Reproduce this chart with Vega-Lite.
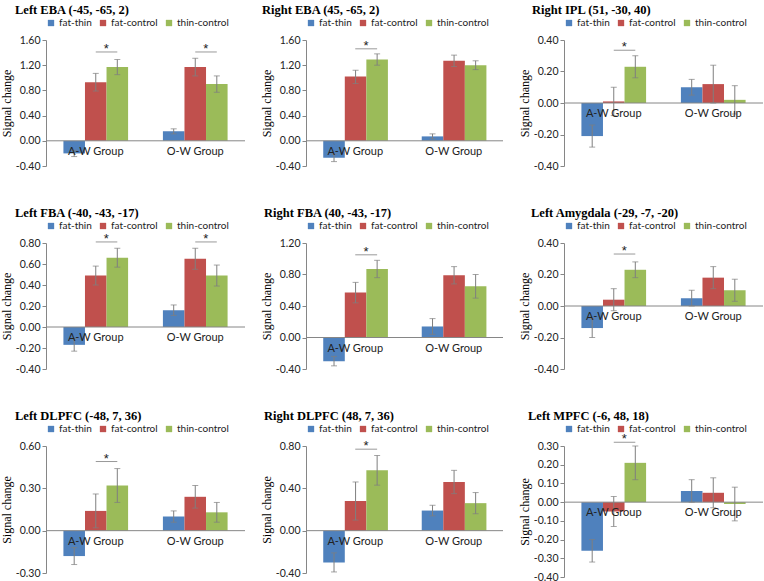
{
  "$schema": "https://vega.github.io/schema/vega-lite/v6.json",
  "padding": {"left": 0, "top": 3, "right": 0, "bottom": 0},
  "background": "white",
  "resolve": {"scale": {"color": "independent"}, "legend": {"color": "independent"}},
  "datasets": {
    "bars": [
      {"panel": "P1", "group": "A-W Group", "cond": "fat-thin", "value": -0.20, "lo": -0.25, "hi": -0.15},
      {"panel": "P1", "group": "A-W Group", "cond": "fat-control", "value": 0.93, "lo": 0.79, "hi": 1.07},
      {"panel": "P1", "group": "A-W Group", "cond": "thin-control", "value": 1.17, "lo": 1.05, "hi": 1.29},
      {"panel": "P1", "group": "O-W Group", "cond": "fat-thin", "value": 0.15, "lo": 0.11, "hi": 0.19},
      {"panel": "P1", "group": "O-W Group", "cond": "fat-control", "value": 1.17, "lo": 1.03, "hi": 1.31},
      {"panel": "P1", "group": "O-W Group", "cond": "thin-control", "value": 0.90, "lo": 0.77, "hi": 1.03},
      {"panel": "P2", "group": "A-W Group", "cond": "fat-thin", "value": -0.27, "lo": -0.33, "hi": -0.21},
      {"panel": "P2", "group": "A-W Group", "cond": "fat-control", "value": 1.02, "lo": 0.91, "hi": 1.12},
      {"panel": "P2", "group": "A-W Group", "cond": "thin-control", "value": 1.29, "lo": 1.20, "hi": 1.38},
      {"panel": "P2", "group": "O-W Group", "cond": "fat-thin", "value": 0.07, "lo": 0.03, "hi": 0.11},
      {"panel": "P2", "group": "O-W Group", "cond": "fat-control", "value": 1.27, "lo": 1.18, "hi": 1.36},
      {"panel": "P2", "group": "O-W Group", "cond": "thin-control", "value": 1.20, "lo": 1.13, "hi": 1.27},
      {"panel": "P3", "group": "A-W Group", "cond": "fat-thin", "value": -0.21, "lo": -0.28, "hi": -0.14},
      {"panel": "P3", "group": "A-W Group", "cond": "fat-control", "value": 0.01, "lo": -0.08, "hi": 0.10},
      {"panel": "P3", "group": "A-W Group", "cond": "thin-control", "value": 0.23, "lo": 0.16, "hi": 0.30},
      {"panel": "P3", "group": "O-W Group", "cond": "fat-thin", "value": 0.10, "lo": 0.05, "hi": 0.15},
      {"panel": "P3", "group": "O-W Group", "cond": "fat-control", "value": 0.12, "lo": 0.00, "hi": 0.24},
      {"panel": "P3", "group": "O-W Group", "cond": "thin-control", "value": 0.02, "lo": -0.07, "hi": 0.11},
      {"panel": "P4", "group": "A-W Group", "cond": "fat-thin", "value": -0.17, "lo": -0.23, "hi": -0.11},
      {"panel": "P4", "group": "A-W Group", "cond": "fat-control", "value": 0.49, "lo": 0.40, "hi": 0.58},
      {"panel": "P4", "group": "A-W Group", "cond": "thin-control", "value": 0.66, "lo": 0.57, "hi": 0.75},
      {"panel": "P4", "group": "O-W Group", "cond": "fat-thin", "value": 0.16, "lo": 0.11, "hi": 0.21},
      {"panel": "P4", "group": "O-W Group", "cond": "fat-control", "value": 0.65, "lo": 0.55, "hi": 0.75},
      {"panel": "P4", "group": "O-W Group", "cond": "thin-control", "value": 0.49, "lo": 0.39, "hi": 0.59},
      {"panel": "P5", "group": "A-W Group", "cond": "fat-thin", "value": -0.30, "lo": -0.36, "hi": -0.24},
      {"panel": "P5", "group": "A-W Group", "cond": "fat-control", "value": 0.57, "lo": 0.44, "hi": 0.70},
      {"panel": "P5", "group": "A-W Group", "cond": "thin-control", "value": 0.87, "lo": 0.76, "hi": 0.98},
      {"panel": "P5", "group": "O-W Group", "cond": "fat-thin", "value": 0.14, "lo": 0.04, "hi": 0.24},
      {"panel": "P5", "group": "O-W Group", "cond": "fat-control", "value": 0.79, "lo": 0.68, "hi": 0.90},
      {"panel": "P5", "group": "O-W Group", "cond": "thin-control", "value": 0.65, "lo": 0.50, "hi": 0.80},
      {"panel": "P6", "group": "A-W Group", "cond": "fat-thin", "value": -0.14, "lo": -0.20, "hi": -0.08},
      {"panel": "P6", "group": "A-W Group", "cond": "fat-control", "value": 0.04, "lo": -0.03, "hi": 0.11},
      {"panel": "P6", "group": "A-W Group", "cond": "thin-control", "value": 0.23, "lo": 0.18, "hi": 0.28},
      {"panel": "P6", "group": "O-W Group", "cond": "fat-thin", "value": 0.05, "lo": 0.00, "hi": 0.10},
      {"panel": "P6", "group": "O-W Group", "cond": "fat-control", "value": 0.18, "lo": 0.11, "hi": 0.25},
      {"panel": "P6", "group": "O-W Group", "cond": "thin-control", "value": 0.10, "lo": 0.03, "hi": 0.17},
      {"panel": "P7", "group": "A-W Group", "cond": "fat-thin", "value": -0.18, "lo": -0.24, "hi": -0.12},
      {"panel": "P7", "group": "A-W Group", "cond": "fat-control", "value": 0.14, "lo": 0.02, "hi": 0.26},
      {"panel": "P7", "group": "A-W Group", "cond": "thin-control", "value": 0.32, "lo": 0.20, "hi": 0.44},
      {"panel": "P7", "group": "O-W Group", "cond": "fat-thin", "value": 0.10, "lo": 0.06, "hi": 0.14},
      {"panel": "P7", "group": "O-W Group", "cond": "fat-control", "value": 0.24, "lo": 0.16, "hi": 0.32},
      {"panel": "P7", "group": "O-W Group", "cond": "thin-control", "value": 0.13, "lo": 0.06, "hi": 0.20},
      {"panel": "P8", "group": "A-W Group", "cond": "fat-thin", "value": -0.30, "lo": -0.39, "hi": -0.21},
      {"panel": "P8", "group": "A-W Group", "cond": "fat-control", "value": 0.28, "lo": 0.10, "hi": 0.46},
      {"panel": "P8", "group": "A-W Group", "cond": "thin-control", "value": 0.57, "lo": 0.43, "hi": 0.71},
      {"panel": "P8", "group": "O-W Group", "cond": "fat-thin", "value": 0.19, "lo": 0.14, "hi": 0.24},
      {"panel": "P8", "group": "O-W Group", "cond": "fat-control", "value": 0.46, "lo": 0.35, "hi": 0.57},
      {"panel": "P8", "group": "O-W Group", "cond": "thin-control", "value": 0.26, "lo": 0.16, "hi": 0.36},
      {"panel": "P9", "group": "A-W Group", "cond": "fat-thin", "value": -0.26, "lo": -0.32, "hi": -0.20},
      {"panel": "P9", "group": "A-W Group", "cond": "fat-control", "value": -0.05, "lo": -0.13, "hi": 0.03},
      {"panel": "P9", "group": "A-W Group", "cond": "thin-control", "value": 0.21, "lo": 0.12, "hi": 0.30},
      {"panel": "P9", "group": "O-W Group", "cond": "fat-thin", "value": 0.06, "lo": 0.00, "hi": 0.12},
      {"panel": "P9", "group": "O-W Group", "cond": "fat-control", "value": 0.05, "lo": -0.03, "hi": 0.13},
      {"panel": "P9", "group": "O-W Group", "cond": "thin-control", "value": -0.01, "lo": -0.10, "hi": 0.08}
    ],
    "sig": [
      {"panel": "P1", "group": "A-W Group", "cond": "thin-control", "line": 1.41},
      {"panel": "P1", "group": "O-W Group", "cond": "thin-control", "line": 1.41},
      {"panel": "P2", "group": "A-W Group", "cond": "thin-control", "line": 1.46},
      {"panel": "P3", "group": "A-W Group", "cond": "thin-control", "line": 0.335},
      {"panel": "P4", "group": "A-W Group", "cond": "thin-control", "line": 0.81},
      {"panel": "P4", "group": "O-W Group", "cond": "thin-control", "line": 0.81},
      {"panel": "P5", "group": "A-W Group", "cond": "thin-control", "line": 1.05},
      {"panel": "P6", "group": "A-W Group", "cond": "thin-control", "line": 0.33},
      {"panel": "P7", "group": "A-W Group", "cond": "thin-control", "line": 0.49},
      {"panel": "P8", "group": "A-W Group", "cond": "thin-control", "line": 0.77},
      {"panel": "P9", "group": "A-W Group", "cond": "thin-control", "line": 0.32}
    ]
  },
  "columns": 3,
  "bounds": "flush",
  "spacing": {"row": 77, "column": 61},
  "concat": [
    {
      "width": 199, "height": 126,
      "title": {"text": "Left EBA (-45, -65, 2)", "dx": -31},
      "layer": [
        {"data": {"name": "bars"}, "transform": [{"filter": "datum.panel === 'P1'"}], "mark": {"type": "bar"},
         "encoding": {
           "x": {"field": "group", "type": "nominal", "scale": {"domain": ["A-W Group", "O-W Group"], "paddingInner": 0.35, "paddingOuter": 0.175}, "axis": {"offset": -25.2}},
           "xOffset": {"field": "cond", "type": "nominal", "scale": {"domain": ["fat-thin", "fat-control", "thin-control"]}},
           "y": {"field": "value", "type": "quantitative", "scale": {"domain": [-0.4, 1.6], "nice": false, "zero": false}, "axis": {"values": [-0.4, 0, 0.4, 0.8, 1.2, 1.6], "tickCount": 20, "format": ".2f", "title": "Signal change", "labelOverlap": false}},
           "color": {"field": "cond", "type": "nominal", "scale": {"domain": ["fat-thin", "fat-control", "thin-control"], "range": ["#4F81BD", "#C0504D", "#9BBB59"]}, "legend": {"title": null}}
         }},
        {"data": {"values": [{}]}, "mark": {"type": "rule", "color": "#868686"}, "encoding": {"y": {"datum": 0}}},
        {"data": {"name": "bars"}, "transform": [{"filter": "datum.panel === 'P1'"}], "mark": {"type": "rule", "color": "#7f7f7f"},
         "encoding": {"x": {"field": "group", "type": "nominal", "axis": null}, "xOffset": {"field": "cond", "type": "nominal"}, "y": {"field": "lo", "type": "quantitative"}, "y2": {"field": "hi"}}},
        {"data": {"name": "bars"}, "transform": [{"filter": "datum.panel === 'P1'"}], "mark": {"type": "tick", "color": "#7f7f7f", "size": 6, "thickness": 1, "orient": "horizontal"},
         "encoding": {"x": {"field": "group", "type": "nominal", "axis": null}, "xOffset": {"field": "cond", "type": "nominal"}, "y": {"field": "lo", "type": "quantitative"}}},
        {"data": {"name": "bars"}, "transform": [{"filter": "datum.panel === 'P1'"}], "mark": {"type": "tick", "color": "#7f7f7f", "size": 6, "thickness": 1, "orient": "horizontal"},
         "encoding": {"x": {"field": "group", "type": "nominal", "axis": null}, "xOffset": {"field": "cond", "type": "nominal"}, "y": {"field": "hi", "type": "quantitative"}}},
        {"data": {"name": "bars"}, "transform": [{"filter": "datum.panel === 'P1' && datum.cond === 'fat-control'"}], "mark": {"type": "text", "baseline": "top", "dy": 5, "font": "Lato", "fontSize": 11, "color": "#222"},
         "encoding": {"x": {"field": "group", "type": "nominal", "axis": null}, "y": {"datum": 0}, "text": {"field": "group"}}},
        {"data": {"name": "sig"}, "transform": [{"filter": "datum.panel === 'P1'"}], "mark": {"type": "rule", "color": "#999999"},
         "encoding": {"x": {"field": "group", "type": "nominal", "axis": null}, "xOffset": {"field": "cond", "type": "nominal"}, "x2": {"field": "group"}, "y": {"field": "line", "type": "quantitative"}}},
        {"data": {"name": "sig"}, "transform": [{"filter": "datum.panel === 'P1'"}], "mark": {"type": "text", "text": "*", "dx": -11, "dy": 1, "baseline": "alphabetic", "font": "Liberation Sans", "fontSize": 13, "color": "#222"},
         "encoding": {"x": {"field": "group", "type": "nominal", "axis": null}, "xOffset": {"field": "cond", "type": "nominal"}, "y": {"field": "line", "type": "quantitative"}}}
      ]
    },
    {
      "width": 197, "height": 126,
      "title": {"text": "Right EBA (45, -65, 2)", "dx": -44},
      "layer": [
        {"data": {"name": "bars"}, "transform": [{"filter": "datum.panel === 'P2'"}], "mark": {"type": "bar"},
         "encoding": {
           "x": {"field": "group", "type": "nominal", "scale": {"domain": ["A-W Group", "O-W Group"], "paddingInner": 0.35, "paddingOuter": 0.175}, "axis": {"offset": -25.2}},
           "xOffset": {"field": "cond", "type": "nominal", "scale": {"domain": ["fat-thin", "fat-control", "thin-control"]}},
           "y": {"field": "value", "type": "quantitative", "scale": {"domain": [-0.4, 1.6], "nice": false, "zero": false}, "axis": {"values": [-0.4, 0, 0.4, 0.8, 1.2, 1.6], "tickCount": 20, "format": ".2f", "title": "Signal change", "labelOverlap": false}},
           "color": {"field": "cond", "type": "nominal", "scale": {"domain": ["fat-thin", "fat-control", "thin-control"], "range": ["#4F81BD", "#C0504D", "#9BBB59"]}, "legend": {"title": null}}
         }},
        {"data": {"values": [{}]}, "mark": {"type": "rule", "color": "#868686"}, "encoding": {"y": {"datum": 0}}},
        {"data": {"name": "bars"}, "transform": [{"filter": "datum.panel === 'P2'"}], "mark": {"type": "rule", "color": "#7f7f7f"},
         "encoding": {"x": {"field": "group", "type": "nominal", "axis": null}, "xOffset": {"field": "cond", "type": "nominal"}, "y": {"field": "lo", "type": "quantitative"}, "y2": {"field": "hi"}}},
        {"data": {"name": "bars"}, "transform": [{"filter": "datum.panel === 'P2'"}], "mark": {"type": "tick", "color": "#7f7f7f", "size": 6, "thickness": 1, "orient": "horizontal"},
         "encoding": {"x": {"field": "group", "type": "nominal", "axis": null}, "xOffset": {"field": "cond", "type": "nominal"}, "y": {"field": "lo", "type": "quantitative"}}},
        {"data": {"name": "bars"}, "transform": [{"filter": "datum.panel === 'P2'"}], "mark": {"type": "tick", "color": "#7f7f7f", "size": 6, "thickness": 1, "orient": "horizontal"},
         "encoding": {"x": {"field": "group", "type": "nominal", "axis": null}, "xOffset": {"field": "cond", "type": "nominal"}, "y": {"field": "hi", "type": "quantitative"}}},
        {"data": {"name": "bars"}, "transform": [{"filter": "datum.panel === 'P2' && datum.cond === 'fat-control'"}], "mark": {"type": "text", "baseline": "top", "dy": 5, "font": "Lato", "fontSize": 11, "color": "#222"},
         "encoding": {"x": {"field": "group", "type": "nominal", "axis": null}, "y": {"datum": 0}, "text": {"field": "group"}}},
        {"data": {"name": "sig"}, "transform": [{"filter": "datum.panel === 'P2'"}], "mark": {"type": "rule", "color": "#999999"},
         "encoding": {"x": {"field": "group", "type": "nominal", "axis": null}, "xOffset": {"field": "cond", "type": "nominal"}, "x2": {"field": "group"}, "y": {"field": "line", "type": "quantitative"}}},
        {"data": {"name": "sig"}, "transform": [{"filter": "datum.panel === 'P2'"}], "mark": {"type": "text", "text": "*", "dx": -11, "dy": 1, "baseline": "alphabetic", "font": "Liberation Sans", "fontSize": 13, "color": "#222"},
         "encoding": {"x": {"field": "group", "type": "nominal", "axis": null}, "xOffset": {"field": "cond", "type": "nominal"}, "y": {"field": "line", "type": "quantitative"}}}
      ]
    },
    {
      "width": 199, "height": 126,
      "title": {"text": "Right IPL (51, -30, 40)", "dx": -32},
      "layer": [
        {"data": {"name": "bars"}, "transform": [{"filter": "datum.panel === 'P3'"}], "mark": {"type": "bar"},
         "encoding": {
           "x": {"field": "group", "type": "nominal", "scale": {"domain": ["A-W Group", "O-W Group"], "paddingInner": 0.35, "paddingOuter": 0.175}, "axis": {"offset": -63}},
           "xOffset": {"field": "cond", "type": "nominal", "scale": {"domain": ["fat-thin", "fat-control", "thin-control"]}},
           "y": {"field": "value", "type": "quantitative", "scale": {"domain": [-0.4, 0.4], "nice": false, "zero": false}, "axis": {"values": [-0.4, -0.2, 0, 0.2, 0.4], "tickCount": 20, "format": ".2f", "title": "Signal change", "labelOverlap": false}},
           "color": {"field": "cond", "type": "nominal", "scale": {"domain": ["fat-thin", "fat-control", "thin-control"], "range": ["#4F81BD", "#C0504D", "#9BBB59"]}, "legend": {"title": null}}
         }},
        {"data": {"values": [{}]}, "mark": {"type": "rule", "color": "#868686"}, "encoding": {"y": {"datum": 0}}},
        {"data": {"name": "bars"}, "transform": [{"filter": "datum.panel === 'P3'"}], "mark": {"type": "rule", "color": "#7f7f7f"},
         "encoding": {"x": {"field": "group", "type": "nominal", "axis": null}, "xOffset": {"field": "cond", "type": "nominal"}, "y": {"field": "lo", "type": "quantitative"}, "y2": {"field": "hi"}}},
        {"data": {"name": "bars"}, "transform": [{"filter": "datum.panel === 'P3'"}], "mark": {"type": "tick", "color": "#7f7f7f", "size": 6, "thickness": 1, "orient": "horizontal"},
         "encoding": {"x": {"field": "group", "type": "nominal", "axis": null}, "xOffset": {"field": "cond", "type": "nominal"}, "y": {"field": "lo", "type": "quantitative"}}},
        {"data": {"name": "bars"}, "transform": [{"filter": "datum.panel === 'P3'"}], "mark": {"type": "tick", "color": "#7f7f7f", "size": 6, "thickness": 1, "orient": "horizontal"},
         "encoding": {"x": {"field": "group", "type": "nominal", "axis": null}, "xOffset": {"field": "cond", "type": "nominal"}, "y": {"field": "hi", "type": "quantitative"}}},
        {"data": {"name": "bars"}, "transform": [{"filter": "datum.panel === 'P3' && datum.cond === 'fat-control'"}], "mark": {"type": "text", "baseline": "top", "dy": 5, "font": "Lato", "fontSize": 11, "color": "#222"},
         "encoding": {"x": {"field": "group", "type": "nominal", "axis": null}, "y": {"datum": 0}, "text": {"field": "group"}}},
        {"data": {"name": "sig"}, "transform": [{"filter": "datum.panel === 'P3'"}], "mark": {"type": "rule", "color": "#999999"},
         "encoding": {"x": {"field": "group", "type": "nominal", "axis": null}, "xOffset": {"field": "cond", "type": "nominal"}, "x2": {"field": "group"}, "y": {"field": "line", "type": "quantitative"}}},
        {"data": {"name": "sig"}, "transform": [{"filter": "datum.panel === 'P3'"}], "mark": {"type": "text", "text": "*", "dx": -11, "dy": 1, "baseline": "alphabetic", "font": "Liberation Sans", "fontSize": 13, "color": "#222"},
         "encoding": {"x": {"field": "group", "type": "nominal", "axis": null}, "xOffset": {"field": "cond", "type": "nominal"}, "y": {"field": "line", "type": "quantitative"}}}
      ]
    },
    {
      "width": 199, "height": 126,
      "title": {"text": "Left FBA (-40, -43, -17)", "dx": -31},
      "layer": [
        {"data": {"name": "bars"}, "transform": [{"filter": "datum.panel === 'P4'"}], "mark": {"type": "bar"},
         "encoding": {
           "x": {"field": "group", "type": "nominal", "scale": {"domain": ["A-W Group", "O-W Group"], "paddingInner": 0.35, "paddingOuter": 0.175}, "axis": {"offset": -42}},
           "xOffset": {"field": "cond", "type": "nominal", "scale": {"domain": ["fat-thin", "fat-control", "thin-control"]}},
           "y": {"field": "value", "type": "quantitative", "scale": {"domain": [-0.4, 0.8], "nice": false, "zero": false}, "axis": {"values": [-0.4, -0.2, 0, 0.2, 0.4, 0.6, 0.8], "tickCount": 20, "format": ".2f", "title": "Signal change", "labelOverlap": false}},
           "color": {"field": "cond", "type": "nominal", "scale": {"domain": ["fat-thin", "fat-control", "thin-control"], "range": ["#4F81BD", "#C0504D", "#9BBB59"]}, "legend": {"title": null}}
         }},
        {"data": {"values": [{}]}, "mark": {"type": "rule", "color": "#868686"}, "encoding": {"y": {"datum": 0}}},
        {"data": {"name": "bars"}, "transform": [{"filter": "datum.panel === 'P4'"}], "mark": {"type": "rule", "color": "#7f7f7f"},
         "encoding": {"x": {"field": "group", "type": "nominal", "axis": null}, "xOffset": {"field": "cond", "type": "nominal"}, "y": {"field": "lo", "type": "quantitative"}, "y2": {"field": "hi"}}},
        {"data": {"name": "bars"}, "transform": [{"filter": "datum.panel === 'P4'"}], "mark": {"type": "tick", "color": "#7f7f7f", "size": 6, "thickness": 1, "orient": "horizontal"},
         "encoding": {"x": {"field": "group", "type": "nominal", "axis": null}, "xOffset": {"field": "cond", "type": "nominal"}, "y": {"field": "lo", "type": "quantitative"}}},
        {"data": {"name": "bars"}, "transform": [{"filter": "datum.panel === 'P4'"}], "mark": {"type": "tick", "color": "#7f7f7f", "size": 6, "thickness": 1, "orient": "horizontal"},
         "encoding": {"x": {"field": "group", "type": "nominal", "axis": null}, "xOffset": {"field": "cond", "type": "nominal"}, "y": {"field": "hi", "type": "quantitative"}}},
        {"data": {"name": "bars"}, "transform": [{"filter": "datum.panel === 'P4' && datum.cond === 'fat-control'"}], "mark": {"type": "text", "baseline": "top", "dy": 5, "font": "Lato", "fontSize": 11, "color": "#222"},
         "encoding": {"x": {"field": "group", "type": "nominal", "axis": null}, "y": {"datum": 0}, "text": {"field": "group"}}},
        {"data": {"name": "sig"}, "transform": [{"filter": "datum.panel === 'P4'"}], "mark": {"type": "rule", "color": "#999999"},
         "encoding": {"x": {"field": "group", "type": "nominal", "axis": null}, "xOffset": {"field": "cond", "type": "nominal"}, "x2": {"field": "group"}, "y": {"field": "line", "type": "quantitative"}}},
        {"data": {"name": "sig"}, "transform": [{"filter": "datum.panel === 'P4'"}], "mark": {"type": "text", "text": "*", "dx": -11, "dy": 1, "baseline": "alphabetic", "font": "Liberation Sans", "fontSize": 13, "color": "#222"},
         "encoding": {"x": {"field": "group", "type": "nominal", "axis": null}, "xOffset": {"field": "cond", "type": "nominal"}, "y": {"field": "line", "type": "quantitative"}}}
      ]
    },
    {
      "width": 197, "height": 126,
      "title": {"text": "Right FBA (40, -43, -17)", "dx": -42},
      "layer": [
        {"data": {"name": "bars"}, "transform": [{"filter": "datum.panel === 'P5'"}], "mark": {"type": "bar"},
         "encoding": {
           "x": {"field": "group", "type": "nominal", "scale": {"domain": ["A-W Group", "O-W Group"], "paddingInner": 0.35, "paddingOuter": 0.175}, "axis": {"offset": -31.5}},
           "xOffset": {"field": "cond", "type": "nominal", "scale": {"domain": ["fat-thin", "fat-control", "thin-control"]}},
           "y": {"field": "value", "type": "quantitative", "scale": {"domain": [-0.4, 1.2], "nice": false, "zero": false}, "axis": {"values": [-0.4, 0, 0.4, 0.8, 1.2], "tickCount": 20, "format": ".2f", "title": "Signal change", "labelOverlap": false}},
           "color": {"field": "cond", "type": "nominal", "scale": {"domain": ["fat-thin", "fat-control", "thin-control"], "range": ["#4F81BD", "#C0504D", "#9BBB59"]}, "legend": {"title": null}}
         }},
        {"data": {"values": [{}]}, "mark": {"type": "rule", "color": "#868686"}, "encoding": {"y": {"datum": 0}}},
        {"data": {"name": "bars"}, "transform": [{"filter": "datum.panel === 'P5'"}], "mark": {"type": "rule", "color": "#7f7f7f"},
         "encoding": {"x": {"field": "group", "type": "nominal", "axis": null}, "xOffset": {"field": "cond", "type": "nominal"}, "y": {"field": "lo", "type": "quantitative"}, "y2": {"field": "hi"}}},
        {"data": {"name": "bars"}, "transform": [{"filter": "datum.panel === 'P5'"}], "mark": {"type": "tick", "color": "#7f7f7f", "size": 6, "thickness": 1, "orient": "horizontal"},
         "encoding": {"x": {"field": "group", "type": "nominal", "axis": null}, "xOffset": {"field": "cond", "type": "nominal"}, "y": {"field": "lo", "type": "quantitative"}}},
        {"data": {"name": "bars"}, "transform": [{"filter": "datum.panel === 'P5'"}], "mark": {"type": "tick", "color": "#7f7f7f", "size": 6, "thickness": 1, "orient": "horizontal"},
         "encoding": {"x": {"field": "group", "type": "nominal", "axis": null}, "xOffset": {"field": "cond", "type": "nominal"}, "y": {"field": "hi", "type": "quantitative"}}},
        {"data": {"name": "bars"}, "transform": [{"filter": "datum.panel === 'P5' && datum.cond === 'fat-control'"}], "mark": {"type": "text", "baseline": "top", "dy": 5, "font": "Lato", "fontSize": 11, "color": "#222"},
         "encoding": {"x": {"field": "group", "type": "nominal", "axis": null}, "y": {"datum": 0}, "text": {"field": "group"}}},
        {"data": {"name": "sig"}, "transform": [{"filter": "datum.panel === 'P5'"}], "mark": {"type": "rule", "color": "#999999"},
         "encoding": {"x": {"field": "group", "type": "nominal", "axis": null}, "xOffset": {"field": "cond", "type": "nominal"}, "x2": {"field": "group"}, "y": {"field": "line", "type": "quantitative"}}},
        {"data": {"name": "sig"}, "transform": [{"filter": "datum.panel === 'P5'"}], "mark": {"type": "text", "text": "*", "dx": -11, "dy": 1, "baseline": "alphabetic", "font": "Liberation Sans", "fontSize": 13, "color": "#222"},
         "encoding": {"x": {"field": "group", "type": "nominal", "axis": null}, "xOffset": {"field": "cond", "type": "nominal"}, "y": {"field": "line", "type": "quantitative"}}}
      ]
    },
    {
      "width": 199, "height": 126,
      "title": {"text": "Left Amygdala (-29, -7, -20)", "dx": -33},
      "layer": [
        {"data": {"name": "bars"}, "transform": [{"filter": "datum.panel === 'P6'"}], "mark": {"type": "bar"},
         "encoding": {
           "x": {"field": "group", "type": "nominal", "scale": {"domain": ["A-W Group", "O-W Group"], "paddingInner": 0.35, "paddingOuter": 0.175}, "axis": {"offset": -63}},
           "xOffset": {"field": "cond", "type": "nominal", "scale": {"domain": ["fat-thin", "fat-control", "thin-control"]}},
           "y": {"field": "value", "type": "quantitative", "scale": {"domain": [-0.4, 0.4], "nice": false, "zero": false}, "axis": {"values": [-0.4, -0.2, 0, 0.2, 0.4], "tickCount": 20, "format": ".2f", "title": "Signal change", "labelOverlap": false}},
           "color": {"field": "cond", "type": "nominal", "scale": {"domain": ["fat-thin", "fat-control", "thin-control"], "range": ["#4F81BD", "#C0504D", "#9BBB59"]}, "legend": {"title": null}}
         }},
        {"data": {"values": [{}]}, "mark": {"type": "rule", "color": "#868686"}, "encoding": {"y": {"datum": 0}}},
        {"data": {"name": "bars"}, "transform": [{"filter": "datum.panel === 'P6'"}], "mark": {"type": "rule", "color": "#7f7f7f"},
         "encoding": {"x": {"field": "group", "type": "nominal", "axis": null}, "xOffset": {"field": "cond", "type": "nominal"}, "y": {"field": "lo", "type": "quantitative"}, "y2": {"field": "hi"}}},
        {"data": {"name": "bars"}, "transform": [{"filter": "datum.panel === 'P6'"}], "mark": {"type": "tick", "color": "#7f7f7f", "size": 6, "thickness": 1, "orient": "horizontal"},
         "encoding": {"x": {"field": "group", "type": "nominal", "axis": null}, "xOffset": {"field": "cond", "type": "nominal"}, "y": {"field": "lo", "type": "quantitative"}}},
        {"data": {"name": "bars"}, "transform": [{"filter": "datum.panel === 'P6'"}], "mark": {"type": "tick", "color": "#7f7f7f", "size": 6, "thickness": 1, "orient": "horizontal"},
         "encoding": {"x": {"field": "group", "type": "nominal", "axis": null}, "xOffset": {"field": "cond", "type": "nominal"}, "y": {"field": "hi", "type": "quantitative"}}},
        {"data": {"name": "bars"}, "transform": [{"filter": "datum.panel === 'P6' && datum.cond === 'fat-control'"}], "mark": {"type": "text", "baseline": "top", "dy": 5, "font": "Lato", "fontSize": 11, "color": "#222"},
         "encoding": {"x": {"field": "group", "type": "nominal", "axis": null}, "y": {"datum": 0}, "text": {"field": "group"}}},
        {"data": {"name": "sig"}, "transform": [{"filter": "datum.panel === 'P6'"}], "mark": {"type": "rule", "color": "#999999"},
         "encoding": {"x": {"field": "group", "type": "nominal", "axis": null}, "xOffset": {"field": "cond", "type": "nominal"}, "x2": {"field": "group"}, "y": {"field": "line", "type": "quantitative"}}},
        {"data": {"name": "sig"}, "transform": [{"filter": "datum.panel === 'P6'"}], "mark": {"type": "text", "text": "*", "dx": -11, "dy": 1, "baseline": "alphabetic", "font": "Liberation Sans", "fontSize": 13, "color": "#222"},
         "encoding": {"x": {"field": "group", "type": "nominal", "axis": null}, "xOffset": {"field": "cond", "type": "nominal"}, "y": {"field": "line", "type": "quantitative"}}}
      ]
    },
    {
      "width": 199, "height": 127,
      "title": {"text": "Left DLPFC (-48, 7, 36)", "dx": -31},
      "layer": [
        {"data": {"name": "bars"}, "transform": [{"filter": "datum.panel === 'P7'"}], "mark": {"type": "bar"},
         "encoding": {
           "x": {"field": "group", "type": "nominal", "scale": {"domain": ["A-W Group", "O-W Group"], "paddingInner": 0.35, "paddingOuter": 0.175}, "axis": {"offset": -42.33}},
           "xOffset": {"field": "cond", "type": "nominal", "scale": {"domain": ["fat-thin", "fat-control", "thin-control"]}},
           "y": {"field": "value", "type": "quantitative", "scale": {"domain": [-0.3, 0.6], "nice": false, "zero": false}, "axis": {"values": [-0.3, 0, 0.3, 0.6], "tickCount": 20, "format": ".2f", "title": "Signal change", "labelOverlap": false}},
           "color": {"field": "cond", "type": "nominal", "scale": {"domain": ["fat-thin", "fat-control", "thin-control"], "range": ["#4F81BD", "#C0504D", "#9BBB59"]}, "legend": {"title": null}}
         }},
        {"data": {"values": [{}]}, "mark": {"type": "rule", "color": "#868686"}, "encoding": {"y": {"datum": 0}}},
        {"data": {"name": "bars"}, "transform": [{"filter": "datum.panel === 'P7'"}], "mark": {"type": "rule", "color": "#7f7f7f"},
         "encoding": {"x": {"field": "group", "type": "nominal", "axis": null}, "xOffset": {"field": "cond", "type": "nominal"}, "y": {"field": "lo", "type": "quantitative"}, "y2": {"field": "hi"}}},
        {"data": {"name": "bars"}, "transform": [{"filter": "datum.panel === 'P7'"}], "mark": {"type": "tick", "color": "#7f7f7f", "size": 6, "thickness": 1, "orient": "horizontal"},
         "encoding": {"x": {"field": "group", "type": "nominal", "axis": null}, "xOffset": {"field": "cond", "type": "nominal"}, "y": {"field": "lo", "type": "quantitative"}}},
        {"data": {"name": "bars"}, "transform": [{"filter": "datum.panel === 'P7'"}], "mark": {"type": "tick", "color": "#7f7f7f", "size": 6, "thickness": 1, "orient": "horizontal"},
         "encoding": {"x": {"field": "group", "type": "nominal", "axis": null}, "xOffset": {"field": "cond", "type": "nominal"}, "y": {"field": "hi", "type": "quantitative"}}},
        {"data": {"name": "bars"}, "transform": [{"filter": "datum.panel === 'P7' && datum.cond === 'fat-control'"}], "mark": {"type": "text", "baseline": "top", "dy": 5, "font": "Lato", "fontSize": 11, "color": "#222"},
         "encoding": {"x": {"field": "group", "type": "nominal", "axis": null}, "y": {"datum": 0}, "text": {"field": "group"}}},
        {"data": {"name": "sig"}, "transform": [{"filter": "datum.panel === 'P7'"}], "mark": {"type": "rule", "color": "#999999"},
         "encoding": {"x": {"field": "group", "type": "nominal", "axis": null}, "xOffset": {"field": "cond", "type": "nominal"}, "x2": {"field": "group"}, "y": {"field": "line", "type": "quantitative"}}},
        {"data": {"name": "sig"}, "transform": [{"filter": "datum.panel === 'P7'"}], "mark": {"type": "text", "text": "*", "dx": -11, "dy": 1, "baseline": "alphabetic", "font": "Liberation Sans", "fontSize": 13, "color": "#222"},
         "encoding": {"x": {"field": "group", "type": "nominal", "axis": null}, "xOffset": {"field": "cond", "type": "nominal"}, "y": {"field": "line", "type": "quantitative"}}}
      ]
    },
    {
      "width": 197, "height": 127,
      "title": {"text": "Right DLPFC (48, 7, 36)", "dx": -42},
      "layer": [
        {"data": {"name": "bars"}, "transform": [{"filter": "datum.panel === 'P8'"}], "mark": {"type": "bar"},
         "encoding": {
           "x": {"field": "group", "type": "nominal", "scale": {"domain": ["A-W Group", "O-W Group"], "paddingInner": 0.35, "paddingOuter": 0.175}, "axis": {"offset": -42.33}},
           "xOffset": {"field": "cond", "type": "nominal", "scale": {"domain": ["fat-thin", "fat-control", "thin-control"]}},
           "y": {"field": "value", "type": "quantitative", "scale": {"domain": [-0.4, 0.8], "nice": false, "zero": false}, "axis": {"values": [-0.4, 0, 0.4, 0.8], "tickCount": 20, "format": ".2f", "title": "Signal change", "labelOverlap": false}},
           "color": {"field": "cond", "type": "nominal", "scale": {"domain": ["fat-thin", "fat-control", "thin-control"], "range": ["#4F81BD", "#C0504D", "#9BBB59"]}, "legend": {"title": null}}
         }},
        {"data": {"values": [{}]}, "mark": {"type": "rule", "color": "#868686"}, "encoding": {"y": {"datum": 0}}},
        {"data": {"name": "bars"}, "transform": [{"filter": "datum.panel === 'P8'"}], "mark": {"type": "rule", "color": "#7f7f7f"},
         "encoding": {"x": {"field": "group", "type": "nominal", "axis": null}, "xOffset": {"field": "cond", "type": "nominal"}, "y": {"field": "lo", "type": "quantitative"}, "y2": {"field": "hi"}}},
        {"data": {"name": "bars"}, "transform": [{"filter": "datum.panel === 'P8'"}], "mark": {"type": "tick", "color": "#7f7f7f", "size": 6, "thickness": 1, "orient": "horizontal"},
         "encoding": {"x": {"field": "group", "type": "nominal", "axis": null}, "xOffset": {"field": "cond", "type": "nominal"}, "y": {"field": "lo", "type": "quantitative"}}},
        {"data": {"name": "bars"}, "transform": [{"filter": "datum.panel === 'P8'"}], "mark": {"type": "tick", "color": "#7f7f7f", "size": 6, "thickness": 1, "orient": "horizontal"},
         "encoding": {"x": {"field": "group", "type": "nominal", "axis": null}, "xOffset": {"field": "cond", "type": "nominal"}, "y": {"field": "hi", "type": "quantitative"}}},
        {"data": {"name": "bars"}, "transform": [{"filter": "datum.panel === 'P8' && datum.cond === 'fat-control'"}], "mark": {"type": "text", "baseline": "top", "dy": 5, "font": "Lato", "fontSize": 11, "color": "#222"},
         "encoding": {"x": {"field": "group", "type": "nominal", "axis": null}, "y": {"datum": 0}, "text": {"field": "group"}}},
        {"data": {"name": "sig"}, "transform": [{"filter": "datum.panel === 'P8'"}], "mark": {"type": "rule", "color": "#999999"},
         "encoding": {"x": {"field": "group", "type": "nominal", "axis": null}, "xOffset": {"field": "cond", "type": "nominal"}, "x2": {"field": "group"}, "y": {"field": "line", "type": "quantitative"}}},
        {"data": {"name": "sig"}, "transform": [{"filter": "datum.panel === 'P8'"}], "mark": {"type": "text", "text": "*", "dx": -11, "dy": 1, "baseline": "alphabetic", "font": "Liberation Sans", "fontSize": 13, "color": "#222"},
         "encoding": {"x": {"field": "group", "type": "nominal", "axis": null}, "xOffset": {"field": "cond", "type": "nominal"}, "y": {"field": "line", "type": "quantitative"}}}
      ]
    },
    {
      "width": 199, "height": 131,
      "title": {"text": "Left MPFC (-6, 48, 18)", "dx": -36},
      "layer": [
        {"data": {"name": "bars"}, "transform": [{"filter": "datum.panel === 'P9'"}], "mark": {"type": "bar"},
         "encoding": {
           "x": {"field": "group", "type": "nominal", "scale": {"domain": ["A-W Group", "O-W Group"], "paddingInner": 0.35, "paddingOuter": 0.175}, "axis": {"offset": -74.86}},
           "xOffset": {"field": "cond", "type": "nominal", "scale": {"domain": ["fat-thin", "fat-control", "thin-control"]}},
           "y": {"field": "value", "type": "quantitative", "scale": {"domain": [-0.4, 0.3], "nice": false, "zero": false}, "axis": {"values": [-0.4, -0.3, -0.2, -0.1, 0, 0.1, 0.2, 0.3], "tickCount": 20, "format": ".2f", "title": "Signal change", "labelOverlap": false}},
           "color": {"field": "cond", "type": "nominal", "scale": {"domain": ["fat-thin", "fat-control", "thin-control"], "range": ["#4F81BD", "#C0504D", "#9BBB59"]}, "legend": {"title": null}}
         }},
        {"data": {"values": [{}]}, "mark": {"type": "rule", "color": "#868686"}, "encoding": {"y": {"datum": 0}}},
        {"data": {"name": "bars"}, "transform": [{"filter": "datum.panel === 'P9'"}], "mark": {"type": "rule", "color": "#7f7f7f"},
         "encoding": {"x": {"field": "group", "type": "nominal", "axis": null}, "xOffset": {"field": "cond", "type": "nominal"}, "y": {"field": "lo", "type": "quantitative"}, "y2": {"field": "hi"}}},
        {"data": {"name": "bars"}, "transform": [{"filter": "datum.panel === 'P9'"}], "mark": {"type": "tick", "color": "#7f7f7f", "size": 6, "thickness": 1, "orient": "horizontal"},
         "encoding": {"x": {"field": "group", "type": "nominal", "axis": null}, "xOffset": {"field": "cond", "type": "nominal"}, "y": {"field": "lo", "type": "quantitative"}}},
        {"data": {"name": "bars"}, "transform": [{"filter": "datum.panel === 'P9'"}], "mark": {"type": "tick", "color": "#7f7f7f", "size": 6, "thickness": 1, "orient": "horizontal"},
         "encoding": {"x": {"field": "group", "type": "nominal", "axis": null}, "xOffset": {"field": "cond", "type": "nominal"}, "y": {"field": "hi", "type": "quantitative"}}},
        {"data": {"name": "bars"}, "transform": [{"filter": "datum.panel === 'P9' && datum.cond === 'fat-control'"}], "mark": {"type": "text", "baseline": "top", "dy": 5, "font": "Lato", "fontSize": 11, "color": "#222"},
         "encoding": {"x": {"field": "group", "type": "nominal", "axis": null}, "y": {"datum": 0}, "text": {"field": "group"}}},
        {"data": {"name": "sig"}, "transform": [{"filter": "datum.panel === 'P9'"}], "mark": {"type": "rule", "color": "#999999"},
         "encoding": {"x": {"field": "group", "type": "nominal", "axis": null}, "xOffset": {"field": "cond", "type": "nominal"}, "x2": {"field": "group"}, "y": {"field": "line", "type": "quantitative"}}},
        {"data": {"name": "sig"}, "transform": [{"filter": "datum.panel === 'P9'"}], "mark": {"type": "text", "text": "*", "dx": -11, "dy": 1, "baseline": "alphabetic", "font": "Liberation Sans", "fontSize": 13, "color": "#222"},
         "encoding": {"x": {"field": "group", "type": "nominal", "axis": null}, "xOffset": {"field": "cond", "type": "nominal"}, "y": {"field": "line", "type": "quantitative"}}}
      ]
    }
  ],
  "config": {
    "view": {"stroke": null},
    "locale": {"number": {"decimal": ".", "thousands": ",", "grouping": [3], "currency": ["$", ""], "minus": "-"}},
    "axis": {"labelFont": "Lato", "labelFontSize": 10.5, "labelColor": "#222", "labelOverlap": false, "domainColor": "#868686", "tickColor": "#868686", "tickSize": 4, "labelPadding": 2, "titleFont": "Liberation Serif", "titleFontSize": 12, "titleFontWeight": "normal", "titleColor": "#000", "titlePadding": 2, "grid": false},
    "axisX": {"labels": false, "domain": false, "ticks": true, "tickBand": "extent", "title": null, "tickSize": 4},
    "legend": {"orient": "top", "direction": "horizontal", "symbolType": "square", "symbolSize": 40, "symbolStrokeWidth": 0, "labelFont": "Lato", "labelFontSize": 10, "labelColor": "#222", "columnPadding": 6, "labelOffset": 3, "offset": 12, "padding": 0},
    "title": {"font": "Liberation Serif", "fontSize": 12.5, "fontWeight": "bold", "anchor": "start", "frame": "group", "color": "#000", "offset": 2}
  }
}
